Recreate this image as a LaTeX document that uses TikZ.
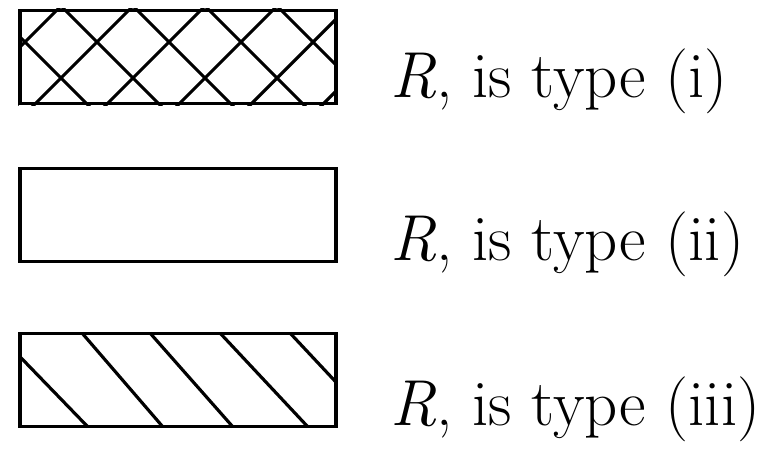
\documentclass[tikz,border=0pt]{standalone}
\usepackage{fontspec}
\usepackage{tikz}
\usetikzlibrary{positioning}

\begin{document}
\begin{tikzpicture}[
    x=0.02cm, y=-0.02cm,
    every node/.style={font=\fontsize{37}{42}\selectfont},
    legendbox/.style={rectangle, draw, line width=2.2pt, minimum width=6.32cm, minimum height=1.86cm, inner sep=0pt},
    hatch/.style={line width=1.8pt},
    legendtext/.style={anchor=base west, inner sep=0pt}
]
\useasboundingbox (0,0) rectangle (763,451);
% legend boxes
\node[legendbox] (typei) at (178,57) {};
\node[legendbox] (typeii) at (178,215) {};
\node[legendbox] (typeiii) at (178,380) {};
% cross hatching
\begin{scope}
  \clip (typei.south west) rectangle (typei.north east);
  \foreach \c in {-89,-17,55,127,199,271,343}
    \draw[hatch] (\c,0) -- ++(130,130);
  \foreach \c in {-5,67,139,211,283,355,427}
    \draw[hatch] (\c,0) -- ++(-130,130);
\end{scope}
% single hatching
\begin{scope}
  \clip (typeiii.south west) rectangle (typeiii.north east);
  \foreach \a/\b in {-3/88, 82/163, 150/233, 220/308, 290/378}
    \draw[hatch] (\a,333) -- (\b,427);
\end{scope}
% labels
\node[legendtext] (texti) at (390,97) {\textit{R}, is type (i)};
\node[legendtext] (textii) at (390,260) {\textit{R}, is type (ii)};
\node[legendtext] (textiii) at (390,425) {\textit{R}, is type (iii)};
\end{tikzpicture}
\end{document}
